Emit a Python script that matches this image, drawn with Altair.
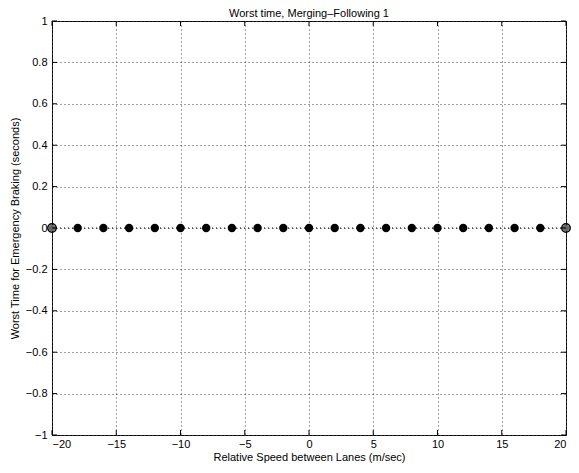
import altair as alt
import pandas as pd

speed = [-20, -18, -16, -14, -12, -10, -8, -6, -4, -2, 0, 2, 4, 6, 8, 10, 12, 14, 16, 18, 20]
worst_time = [0] * 21
x_ticks = [-20, -15, -10, -5, 0, 5, 10, 15, 20]
y_ticks = [-1, -0.8, -0.6, -0.4, -0.2, 0, 0.2, 0.4, 0.6, 0.8, 1]

W, H = 514, 414
FONT = "Liberation Sans"

df = pd.DataFrame({"speed": speed, "t": worst_time})
xt = pd.DataFrame({"speed": x_ticks})
yt = pd.DataFrame({"t": y_ticks})

xs = alt.Scale(domain=[-20, 20], nice=False, zero=False)
ys = alt.Scale(domain=[-1, 1], nice=False, zero=False)

xaxis = alt.Axis(values=x_ticks, grid=True, gridDash=[1, 3], gridColor="#444", gridWidth=1,
                 domain=False, ticks=False, tickSize=0, labelPadding=3, labelFontSize=11,
                 titleFontSize=11, titleFontWeight="normal", labelColor="black", titleColor="black",
                 labelFont=FONT, titleFont=FONT, titlePadding=2, format="~g")
yaxis = alt.Axis(values=y_ticks, grid=True, gridDash=[1, 3], gridColor="#444", gridWidth=1,
                 domain=False, ticks=False, tickSize=0, labelPadding=5, labelFontSize=11,
                 titleFontSize=11, titleFontWeight="normal", labelColor="black", titleColor="black",
                 labelFont=FONT, titleFont=FONT, titlePadding=5, format="~g")

XT = "Relative Speed between Lanes (m/sec)"
YT = "Worst Time for Emergency Braking (seconds)"
X = alt.X("speed:Q", scale=xs, axis=xaxis, title=XT)
Y = alt.Y("t:Q", scale=ys, axis=yaxis, title=YT)

base = alt.Chart(df)
line = base.mark_line(color="black", strokeDash=[1, 3], strokeWidth=1.2).encode(x=X, y=Y)
inner = base.transform_filter("abs(datum.speed) < 20").mark_point(
    filled=True, color="black", size=70, opacity=1).encode(x=X, y=Y)
ends = base.transform_filter("abs(datum.speed) >= 20").mark_point(
    filled=False, color="black", size=70, strokeWidth=1.5, opacity=1).encode(x=X, y=Y)
ends_fill = base.transform_filter("abs(datum.speed) >= 20").mark_point(
    filled=True, color="#666", size=40, opacity=1).encode(x=X, y=Y)

tx_bot = alt.Chart(xt).mark_rule(color="black").encode(x=X, y=alt.value(H), y2=alt.value(H - 5))
tx_top = alt.Chart(xt).mark_rule(color="black").encode(x=X, y=alt.value(0), y2=alt.value(5))
ty_left = alt.Chart(yt).mark_rule(color="black").encode(y=Y, x=alt.value(0), x2=alt.value(5))
ty_right = alt.Chart(yt).mark_rule(color="black").encode(y=Y, x=alt.value(W), x2=alt.value(W - 5))

chart = alt.layer(line, ends_fill, ends, inner, tx_bot, tx_top, ty_left, ty_right).properties(
    width=W, height=H,
    title=alt.TitleParams("Worst time, Merging\u2013Following 1", fontSize=11, fontWeight="normal",
                          font=FONT, color="black", anchor="middle", offset=-4),
    padding={"left": 44, "top": 13, "right": 5, "bottom": 30},
    autosize="none",
).configure_view(stroke="black", strokeWidth=1)

chart.save("out.html", embed_options={"renderer": "svg", "actions": False})
